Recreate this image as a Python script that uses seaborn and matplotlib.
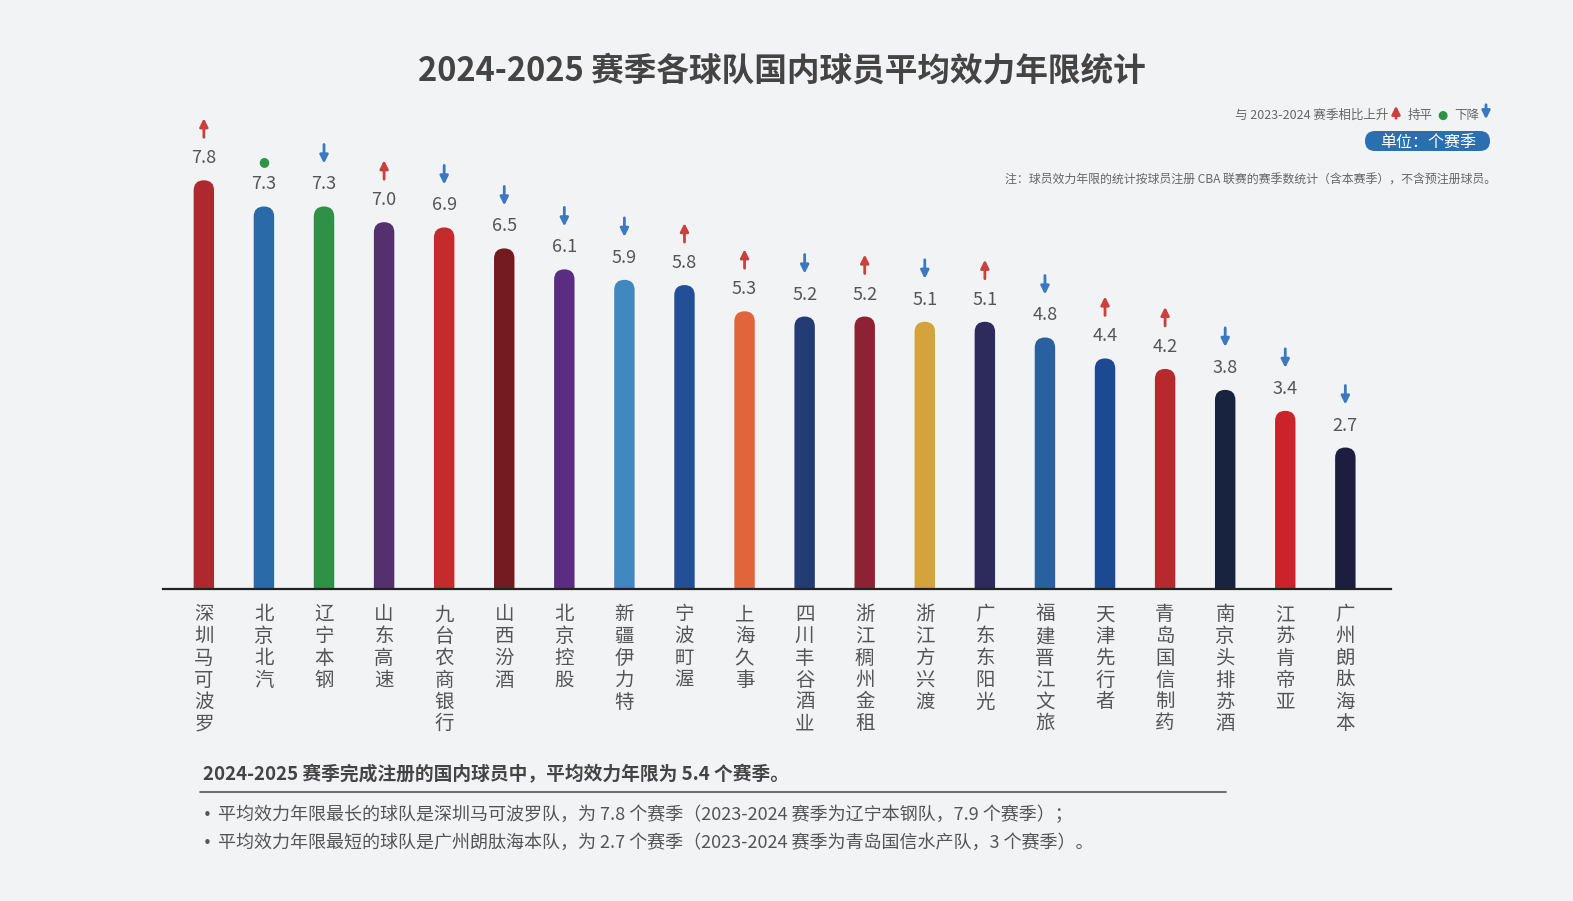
import matplotlib
matplotlib.use("Agg")
import matplotlib.pyplot as plt
import matplotlib.transforms as mtransforms
from matplotlib.patches import FancyBboxPatch
import seaborn as sns
import pandas as pd

teams = ["深圳马可波罗", "北京北汽", "辽宁本钢", "山东高速", "九台农商银行", "山西汾酒", "北京控股",
         "新疆伊力特", "宁波町渥", "上海久事", "四川丰谷酒业", "浙江稠州金租", "浙江方兴渡", "广东东阳光",
         "福建晋江文旅", "天津先行者", "青岛国信制药", "南京头排苏酒", "江苏肯帝亚", "广州朗肽海本"]
values = [7.8, 7.3, 7.3, 7.0, 6.9, 6.5, 6.1, 5.9, 5.8, 5.3, 5.2, 5.2, 5.1, 5.1, 4.8, 4.4, 4.2, 3.8, 3.4, 2.7]
trend = ["up", "flat", "down", "up", "down", "down", "down", "down", "up", "up",
         "down", "up", "down", "up", "down", "up", "up", "down", "down", "down"]
colors = ["#b0282f", "#2a6aa8", "#2e9145", "#55306f", "#c52a2d", "#731b20", "#5a2d82", "#3f88c0",
          "#234f96", "#e2643a", "#233d74", "#8c2233", "#d4a33c", "#2d2a5c", "#2860a0", "#1b4a93",
          "#b8292d", "#17233f", "#cc2229", "#1c1d3f"]

title = "2024-2025 赛季各球队国内球员平均效力年限统计"
legend_prefix = "与 2023-2024 赛季相比上升"
legend_flat = "持平"
legend_down = "下降"
unit_text = "单位：个赛季"
note_text = "注：球员效力年限的统计按球员注册 CBA 联赛的赛季数统计（含本赛季），不含预注册球员。"
summary = "2024-2025 赛季完成注册的国内球员中，平均效力年限为 5.4 个赛季。"
bullets = ["平均效力年限最长的球队是深圳马可波罗队，为 7.8 个赛季（2023-2024 赛季为辽宁本钢队，7.9 个赛季）；",
           "平均效力年限最短的球队是广州朗肽海本队，为 2.7 个赛季（2023-2024 赛季为青岛国信水产队，3 个赛季）。"]

UP_C = "#c9403f"
DOWN_C = "#3a78c0"
FLAT_C = "#2e9444"
TXT = "#555555"

sns.set_theme(style="white")
plt.rcParams["font.family"] = ["Noto Sans CJK SC", "DejaVu Sans"]

W, H = 1573, 901
fig = plt.figure(figsize=(W / 100, H / 100), dpi=100)
bg = "#f2f3f5"
fig.patch.set_facecolor(bg)

ax_l, ax_r, ax_b, ax_t = 163, 1391, 589, 100
ax = fig.add_axes([ax_l / W, 1 - ax_b / H, (ax_r - ax_l) / W, (ax_b - ax_t) / H])
ax.set_facecolor("none")

df = pd.DataFrame({"team": teams, "value": values})
sns.barplot(data=df, x="team", y="value", hue="team", palette=colors, width=0.34,
            saturation=1, legend=False, ax=ax, order=teams, hue_order=teams)

x0, x1 = -0.68, 19.76
y1 = (ax_b - ax_t) / 52.4
ax.set_xlim(x0, x1)
ax.set_ylim(0, y1)

px_x = (ax_r - ax_l) / (x1 - x0)
px_y = (ax_b - ax_t) / y1
aspect = px_x / px_y

for p in list(ax.patches):
    x, w, h = p.get_x(), p.get_width(), p.get_height()
    fc = p.get_facecolor()
    p.remove()
    fb = FancyBboxPatch((x, -1), w, h + 1,
                        boxstyle=f"round,pad=0,rounding_size={w / 2}",
                        mutation_aspect=aspect, fc=fc, ec="none", clip_on=True)
    ax.add_patch(fb)

# value labels & trend markers
pt = 0.72  # points per pixel at dpi 100
for i, (v, t) in enumerate(zip(values, trend)):
    ax.annotate(f"{v:.1f}", xy=(i, v), xytext=(0, 22 * pt), textcoords="offset points",
                ha="center", va="center", fontsize=13, color=TXT)
    if t == "flat":
        ax.annotate("●", xy=(i, v), xytext=(0, 45 * pt), textcoords="offset points",
                    ha="center", va="center", fontsize=9, color=FLAT_C,
                    family=["DejaVu Sans"])
    else:
        lo = mtransforms.offset_copy(ax.transData, fig=fig, x=0, y=43 * pt, units="points")
        hi = mtransforms.offset_copy(ax.transData, fig=fig, x=0, y=62 * pt, units="points")
        if t == "up":
            head, tail, c = hi, lo, UP_C
        else:
            head, tail, c = lo, hi, DOWN_C
        ax.annotate("", xy=(i, v), xycoords=head, xytext=(i, v), textcoords=tail,
                    arrowprops=dict(arrowstyle="-|>", color=c, lw=2, mutation_scale=12,
                                    shrinkA=0, shrinkB=0))

ax.set_xticks(range(len(teams)))
ax.set_xticklabels(["\n".join(n) for n in teams], fontsize=14, color=TXT,
                   linespacing=1.05, va="top")
ax.tick_params(axis="x", length=0, pad=11)
ax.set_yticks([])
ax.set_xlabel("")
ax.set_ylabel("")
for s in ["top", "right", "left"]:
    ax.spines[s].set_visible(False)
ax.spines["bottom"].set_color("#222222")
ax.spines["bottom"].set_linewidth(1.6)

# title
fig.text(782 / W, 1 - 71 / H, title, ha="center", va="center", fontsize=23.5,
         fontweight="bold", color="#444444")

# legend line (top right)
ly = 1 - 115 / H
fig.text(1388 / W, ly, legend_prefix, ha="right", va="center", fontsize=9, color="#666666")
fig.text(1433 / W, ly, legend_flat, ha="right", va="center", fontsize=9, color="#666666")
fig.text(1479 / W, ly, legend_down, ha="right", va="center", fontsize=9, color="#666666")
fig.patches.append(matplotlib.patches.FancyArrowPatch((1396 / W, 1 - 121 / H), (1396 / W, 1 - 103 / H),
                   transform=fig.transFigure, arrowstyle="-|>", color=UP_C, lw=2, mutation_scale=12))
fig.text(1442 / W, ly, "●", ha="center", va="center", fontsize=8.5, color=FLAT_C, family=["DejaVu Sans"])
fig.patches.append(matplotlib.patches.FancyArrowPatch((1486 / W, 1 - 102 / H), (1486 / W, 1 - 122 / H),
                   transform=fig.transFigure, arrowstyle="-|>", color=DOWN_C, lw=2, mutation_scale=12))

# unit pill (pixel coordinates)
pill = FancyBboxPatch((1365, H - 151), 125, 20, boxstyle="round,pad=0,rounding_size=10",
                      transform=mtransforms.IdentityTransform(), fc="#2a6fb0", ec="none")
fig.patches.append(pill)
fig.text(1428 / W, 1 - 143 / H, unit_text, ha="center", va="center", fontsize=11.5, color="white")
fig.text(1496 / W, 1 - 180 / H, note_text, ha="right", va="center", fontsize=8.6, color="#666666")

# summary
fig.text(203 / W, 1 - 775 / H, summary, ha="left", va="center", fontsize=13.5,
         fontweight="bold", color="#444444")
fig.add_artist(matplotlib.lines.Line2D([200 / W, 1226 / W], [1 - 792 / H, 1 - 792 / H],
                                       color="#555555", lw=1.2))
for k, b in enumerate(bullets):
    yy = 1 - (815 + 28 * k) / H
    fig.text(203 / W, yy, "•", ha="left", va="center", fontsize=11, color=TXT, family=["DejaVu Sans"])
    fig.text(218 / W, yy, b, ha="left", va="center", fontsize=13, color=TXT)

fig.savefig("out.png", dpi=100, facecolor=fig.get_facecolor())
